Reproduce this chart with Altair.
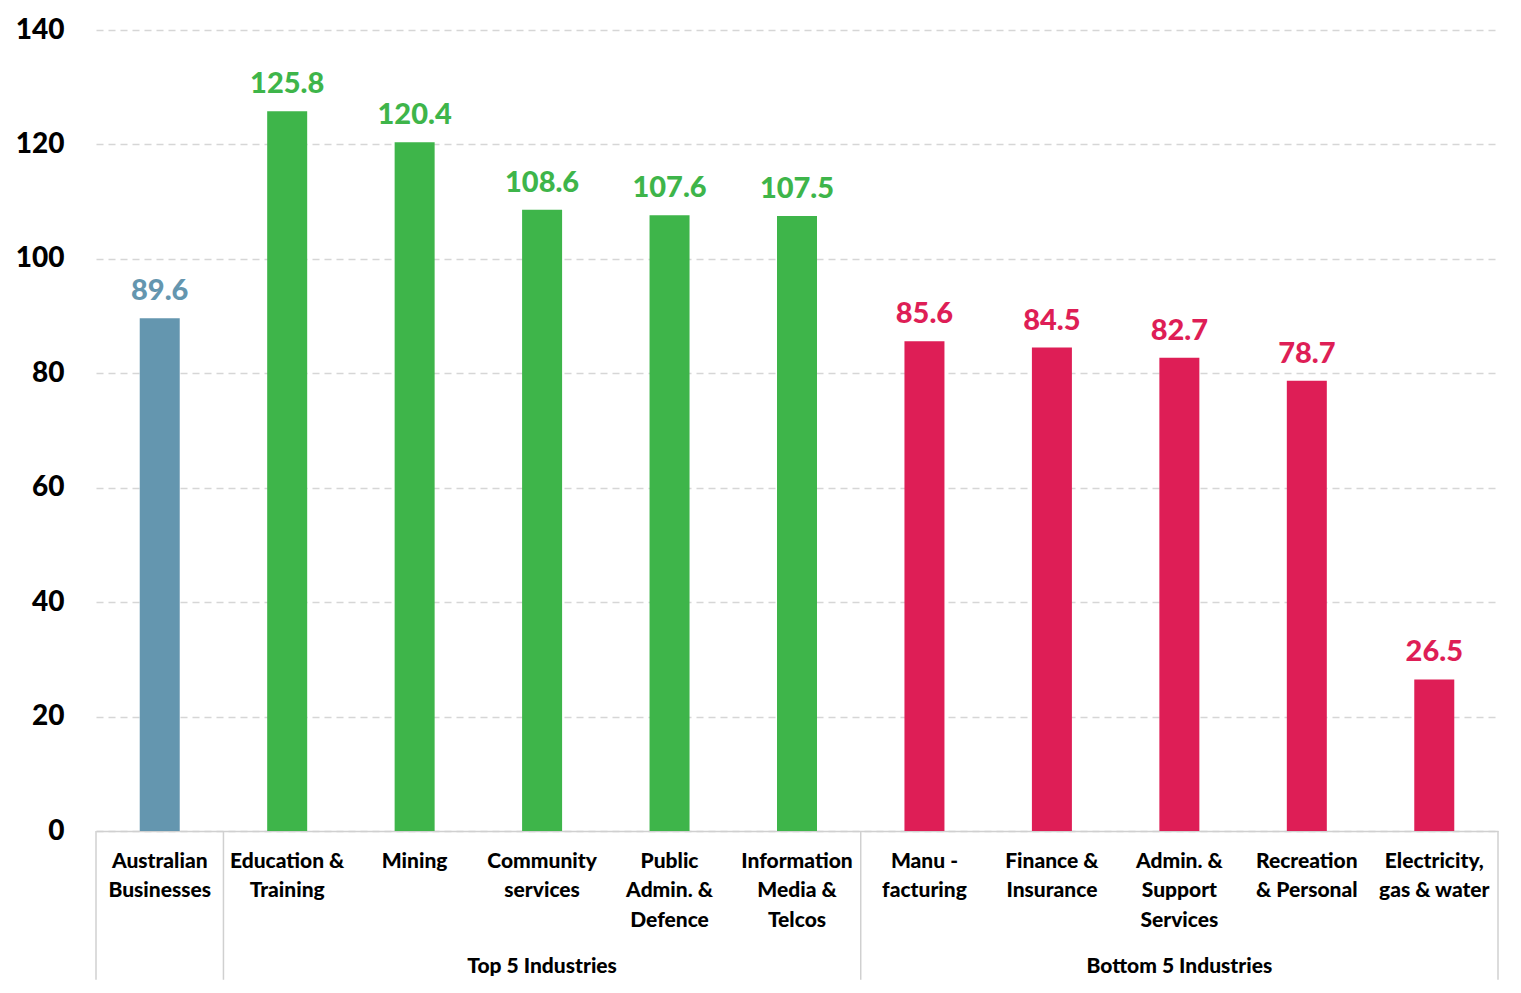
import altair as alt
import pandas as pd

categories = ["Australian|Businesses", "Education &|Training", "Mining", "Community|services",
              "Public|Admin. &|Defence", "Information|Media &|Telcos", "Manu -|facturing",
              "Finance &|Insurance", "Admin. &|Support|Services", "Recreation|& Personal",
              "Electricity,|gas & water"]
values = [89.6, 125.8, 120.4, 108.6, 107.6, 107.5, 85.6, 84.5, 82.7, 78.7, 26.5]
groups = ["All", "Top", "Top", "Top", "Top", "Top", "Bottom", "Bottom", "Bottom", "Bottom", "Bottom"]
group_colors = {"All": "#6496AF", "Top": "#3EB54A", "Bottom": "#DE1E56"}

group_names = ["Top 5 Industries", "Bottom 5 Industries"]
group_centers = ["Community|services", "Admin. &|Support|Services"]
left_edges = ["Australian|Businesses", "Education &|Training", "Manu -|facturing"]
right_edges = ["Electricity,|gas & water"]

FONT = "Lato"

df = pd.DataFrame({"cat": categories, "value": values, "group": groups})
df["label"] = df["value"].map(lambda v: f"{v:.1f}")

xscale = alt.Scale(domain=categories, paddingInner=0, paddingOuter=0)
yscale = alt.Scale(domain=[0, 140], nice=False)
cscale = alt.Scale(domain=list(group_colors.keys()), range=list(group_colors.values()))

x_enc = alt.X("cat:N", scale=xscale, sort=categories, title=None,
              axis=alt.Axis(labelExpr="split(datum.label, '|')", labelAngle=0,
                            labelFont=FONT, labelFontSize=21, labelFontWeight=900,
                            labelColor="#000000", labelLineHeight=29.5, labelPadding=19,
                            labelLimit=300, ticks=False, domainColor="#d0d0d0",
                            domainWidth=1.5))
y_enc = alt.Y("value:Q", scale=yscale, title=None,
              axis=alt.Axis(values=[0, 20, 40, 60, 80, 100, 120, 140], labelFont=FONT,
                            labelFontSize=28, labelFontWeight=900, labelColor="#000000",
                            labelPadding=32, ticks=False, domain=False,
                            gridColor="#d6d6d6", gridDash=[7, 5], gridWidth=1.5))

bars = alt.Chart(df).mark_bar(size=40).encode(
    x=x_enc, y=y_enc,
    color=alt.Color("group:N", scale=cscale, legend=None),
)
labels = alt.Chart(df).mark_text(baseline="bottom", dy=-12, font=FONT, fontSize=29,
                                 fontWeight=900).encode(
    x=alt.X("cat:N", scale=xscale, sort=categories),
    y=alt.Y("value:Q", scale=yscale),
    text="label:N",
    color=alt.Color("group:N", scale=cscale, legend=None),
)

sep_left = alt.Chart(pd.DataFrame({"cat": left_edges, "y0": 0, "y1": -26})).mark_rule(
    color="#d0d0d0", strokeWidth=1.5).encode(
    x=alt.X("cat:N", scale=xscale, sort=categories, bandPosition=0),
    y=alt.Y("y0:Q", scale=yscale), y2="y1:Q")
sep_right = alt.Chart(pd.DataFrame({"cat": right_edges, "y0": 0, "y1": -26})).mark_rule(
    color="#d0d0d0", strokeWidth=1.5).encode(
    x=alt.X("cat:N", scale=xscale, sort=categories, bandPosition=1),
    y=alt.Y("y0:Q", scale=yscale), y2="y1:Q")

grp = alt.Chart(pd.DataFrame({"cat": group_centers, "name": group_names, "y": -23.8})).mark_text(
    font=FONT, fontSize=21, fontWeight=900, color="#000000", baseline="middle").encode(
    x=alt.X("cat:N", scale=xscale, sort=categories),
    y=alt.Y("y:Q", scale=yscale),
    text="name:N")

chart = alt.layer(bars, labels, sep_left, sep_right, grp).properties(
    width=1402, height=801, padding={"left": 7, "top": 8, "right": 5, "bottom": 5},
    background="#ffffff"
).configure_view(stroke=None)

chart.save("out.html", embed_options={"renderer": "svg", "actions": False})
